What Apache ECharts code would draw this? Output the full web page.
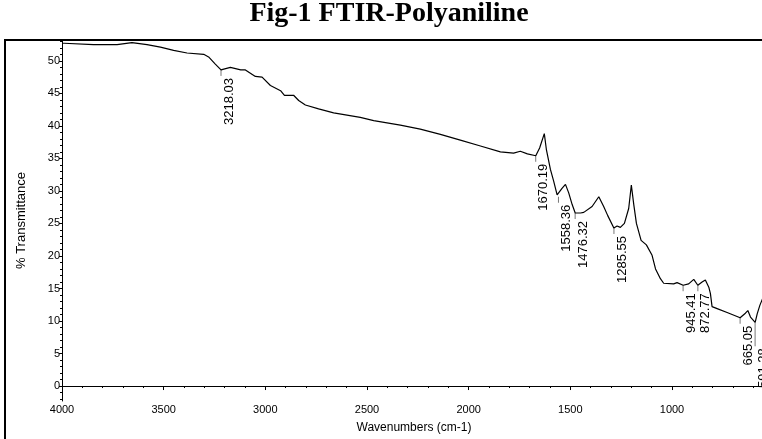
<!DOCTYPE html>
<html>
<head>
<meta charset="utf-8">
<script src="https://cdn.jsdelivr.net/npm/echarts@6/dist/echarts.min.js"></script>
<style>
  html, body { margin: 0; padding: 0; overflow: hidden; background: #fff; }
  #ftir { width: 850px; height: 439px; }
</style>
</head>
<body>
<div id="ftir"></div>
<script>
// spectrum (wavenumber cm-1, % transmittance)
const wavenumbers = [
  4000, 3990, 3845, 3729, 3656, 3582, 3516, 3451, 3385, 3303, 3279, 3246, 3218,
  3172, 3121, 3098, 3049, 3016, 2975, 2925, 2906, 2861, 2836, 2803, 2738, 2664,
  2533, 2467, 2336, 2238, 2139, 2041, 1942, 1844, 1779, 1746, 1711, 1670, 1651,
  1628, 1618, 1598, 1582, 1565, 1558, 1541, 1524, 1508, 1491, 1476, 1450, 1434,
  1393, 1360, 1336, 1316, 1286, 1270, 1254, 1234, 1213, 1200, 1188, 1175, 1152,
  1126, 1098, 1081, 1057, 1041, 992, 975, 945, 918, 893, 873, 852, 836, 819,
  811, 803, 778, 729, 680, 665, 639, 627, 614, 591, 581, 568, 555
]
const transmittance = [
  52.7, 52.7, 52.5, 52.5, 52.8, 52.5, 52.1, 51.6, 51.2, 51.0, 50.6, 49.5, 48.6,
  49.0, 48.6, 48.6, 47.6, 47.5, 46.2, 45.4, 44.7, 44.7, 43.9, 43.2, 42.6, 42.0,
  41.3, 40.8, 40.1, 39.5, 38.7, 37.8, 36.9, 36.0, 35.8, 36.1, 35.7, 35.4, 36.6,
  38.8, 36.4, 33.3, 31.5, 29.4, 29.1, 30.4, 31.0, 29.7, 27.9, 26.6, 26.6, 26.7,
  27.6, 29.1, 27.6, 26.2, 24.3, 24.6, 24.4, 25.0, 27.3, 30.9, 27.9, 25.0, 22.4,
  21.7, 20.1, 18.0, 16.5, 15.8, 15.7, 15.9, 15.5, 15.7, 16.4, 15.5, 16.0, 16.3, 15.2,
  14.2, 12.2, 11.9, 11.3, 10.7, 10.5, 11.2, 11.6, 10.6, 9.8, 11.1, 12.4, 13.4
]

// labelled peaks
const peakWn = [3218.03, 1670.19, 1558.36, 1476.32, 1285.55, 945.41, 872.77, 665.05, 591.28]
const peakT = [48.6, 35.4, 29.1, 26.6, 24.3, 15.5, 15.5, 10.5, 9.8]

// tick labels
const xTicks = [4000, 3500, 3000, 2500, 2000, 1500, 1000, 500]
const yTicks = [0, 5, 10, 15, 20, 25, 30, 35, 40, 45, 50]

const xMinor = []
for (let w = 4000; w >= 400; w -= 100) xMinor.push(w)
const yMinor = []
for (let v = -2; v <= 53; v += 1) yMinor.push(v)

const font = '"Liberation Sans", Arial, sans-serif'

const chart = echarts.init(document.getElementById('ftir'))

const option = {
  animation: false,
  title: {
    text: 'Fig-1 FTIR-Polyaniline',
    left: 389,
    top: 0,
    textAlign: 'center',
    padding: [0, 0, 0, 0],
    textStyle: {
      fontFamily: '"Liberation Serif", "Times New Roman", serif',
      fontWeight: 'bold',
      fontSize: 28,
      color: '#000',
    },
  },
  grid: { left: 62, top: 40, width: 732, height: 361 },
  xAxis: [
    {
      type: 'value',
      min: 400,
      max: 4000,
      inverse: true,
      name: 'Wavenumbers (cm-1)',
      nameLocation: 'middle',
      nameGap: 21,
      nameTextStyle: { fontFamily: font, fontSize: 12, color: '#000', padding: [0, 28, 0, 0] },
      axisLine: { lineStyle: { color: '#000', width: 1 } },
      axisTick: { inside: false, length: 4, customValues: xTicks, lineStyle: { color: '#000' } },
      axisLabel: {
        customValues: xTicks,
        formatter: (v) => String(v),
        margin: 3,
        fontFamily: font,
        fontSize: 11,
        color: '#000',
      },
      splitLine: { show: false },
    },
    {
      type: 'value',
      min: 400,
      max: 4000,
      inverse: true,
      position: 'bottom',
      axisLine: { show: false },
      axisTick: { length: 2, customValues: xMinor, lineStyle: { color: '#000' } },
      axisLabel: { show: false },
      splitLine: { show: false },
    },
  ],
  yAxis: [
    {
      type: 'value',
      min: -2.3,
      max: 53.2,
      name: '% Transmittance',
      nameLocation: 'middle',
      nameGap: 34,
      nameTextStyle: { fontFamily: font, fontSize: 13, color: '#000' },
      axisLine: { show: true, lineStyle: { color: '#000', width: 1 } },
      axisTick: { show: true, length: 3, customValues: yTicks, lineStyle: { color: '#000' } },
      axisLabel: { customValues: yTicks, margin: 2, fontFamily: font, fontSize: 11, color: '#000' },
      splitLine: { show: false },
    },
    {
      type: 'value',
      min: -2.3,
      max: 53.2,
      position: 'left',
      axisLine: { show: false },
      axisTick: { show: true, length: 2, customValues: yMinor, lineStyle: { color: '#000' } },
      axisLabel: { show: false },
      splitLine: { show: false },
    },
  ],
  graphic: [
    {
      type: 'rect',
      shape: { x: 5, y: 40, width: 1200, height: 1000 },
      style: { fill: 'none', stroke: '#000', lineWidth: 2 },
      silent: true,
    },
  ],
  series: [
    {
      type: 'line',
      data: wavenumbers.map((w, i) => [w, transmittance[i]]),
      showSymbol: false,
      lineStyle: { color: '#000', width: 1.2 },
    },
    {
      type: 'custom',
      data: peakWn.map((w, i) => [w, peakT[i]]),
      renderItem: (params, api) => {
        const p = api.coord([api.value(0), api.value(1)])
        const len = api.value(0) < 600 ? 24 : 6
        return {
          type: 'group',
          children: [
            {
              type: 'line',
              shape: { x1: p[0], y1: p[1], x2: p[0], y2: p[1] + len },
              style: { stroke: '#777', lineWidth: 1 },
            },
            {
              type: 'text',
              x: p[0] + 8,
              y: p[1] + len + 2,
              rotation: Math.PI / 2,
              style: {
                text: peakWn[params.dataIndex].toFixed(2),
                font: '13px ' + font,
                fill: '#000',
                align: 'right',
                verticalAlign: 'middle',
              },
            },
          ],
        }
      },
    },
  ],
}

chart.setOption(option)
</script>
</body>
</html>
